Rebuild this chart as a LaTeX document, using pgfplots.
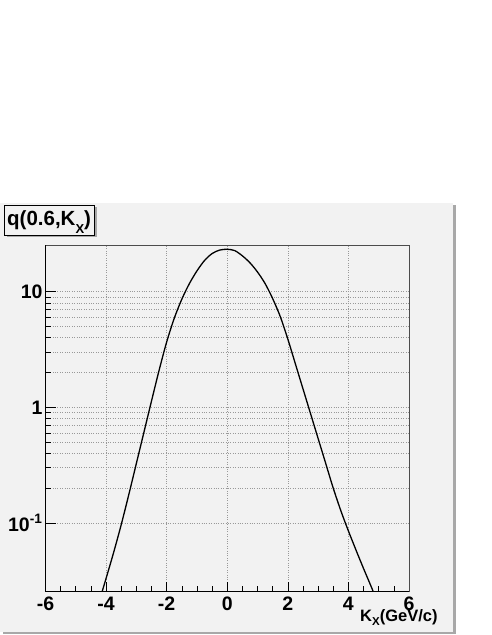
\documentclass[border=0pt]{standalone}
\usepackage{fontspec}
\setmainfont{Liberation Sans}
\usepackage{pgfplots}
\pgfplotsset{compat=1.18}
\definecolor{panel}{HTML}{F2F2F2}
\definecolor{shadowc}{HTML}{A8A8A8}
\begin{document}
\begin{tikzpicture}[x=1pt,y=1pt]
\path[use as bounding box, fill=white] (0,0) rectangle (491,635);
% canvas panel with shadow
\fill[shadowc] (2.5,0.5) rectangle (455.5,430);
\fill[panel] (0,3) rectangle (453,432);
% title box
\fill[shadowc] (6.5,397.5) rectangle (97,428);
\filldraw[fill=panel, draw=black, line width=0.7pt] (4.3,400) rectangle (94.5,430);
\node[anchor=base west, inner sep=0pt, font=\fontsize{20.5}{20.5}\selectfont\bfseries] at (7.0,409.5)
  {q(0.6,K\raisebox{-8pt}{\fontsize{13}{13}\selectfont X})};
\begin{axis}[
  at={(45.5pt,43.3pt)}, anchor=south west,
  scale only axis, width=363.5pt, height=346pt,
  xmin=-6, xmax=6, ymode=log, ymin=0.0254, ymax=25,
  xtick={-6,-4,-2,0,2,4,6},
  xticklabels={-6,-4,-2,0,2,4,6},
  minor x tick num=3,
  ytick={0.1,1,10},
  yticklabels={{10\textsuperscript{-1}},1,10},
  xmajorgrids, ymajorgrids, yminorgrids,
  major grid style={gray!80, dotted, line width=0.6pt},
  minor grid style={gray!80, dotted, line width=0.6pt},
  tick align=inside, xtick pos=bottom, ytick pos=left,
  major tick length=10pt, minor tick length=6pt,
  tick style={black, line width=0.6pt},
  axis background/.style={fill=panel},
  axis line style={black, line width=0.8pt},
  ticklabel style={font=\fontsize{19.5}{19.5}\selectfont\bfseries},
  yticklabel style={xshift=0.5pt},
  xticklabel style={yshift=-1.5pt},
  clip=true,
]
\addplot[black, line width=1.3pt, smooth, tension=0.5] coordinates {
(-4.2,0.02213) (-4.0,0.03311) (-3.75,0.05559) (-3.5,0.09661) (-3.25,0.1758)
(-3.0,0.3273) (-2.75,0.6095) (-2.5,1.135) (-2.25,2.089) (-2.0,3.673)
(-1.75,5.888) (-1.5,8.610) (-1.25,11.75) (-1.0,15.14) (-0.75,18.62)
(-0.5,21.38) (-0.25,22.91) (0,23.28) (0.25,22.65) (0.5,20.42)
(0.75,17.78) (1.0,14.79) (1.25,11.75) (1.5,8.710) (1.75,6.095)
(2.0,3.890) (2.25,2.371) (2.5,1.445) (2.75,0.8810) (3.0,0.5370)
(3.25,0.3273) (3.5,0.1995) (3.75,0.1274) (4.0,0.08511) (4.25,0.05821)
(4.5,0.04027) (4.75,0.02818) (5.0,0.01950)
};
\end{axis}
% darker top/right frame
\draw[black!70, line width=1pt] (45.5,389.3) -- (409,389.3) -- (409,43.3);
\node[anchor=base west, inner sep=0pt, font=\fontsize{16.5}{16.5}\selectfont\bfseries] at (360,13.3)
  {K\raisebox{-3.6pt}{\fontsize{11.5}{11.5}\selectfont X}(GeV/c)};
\end{tikzpicture}
\end{document}
